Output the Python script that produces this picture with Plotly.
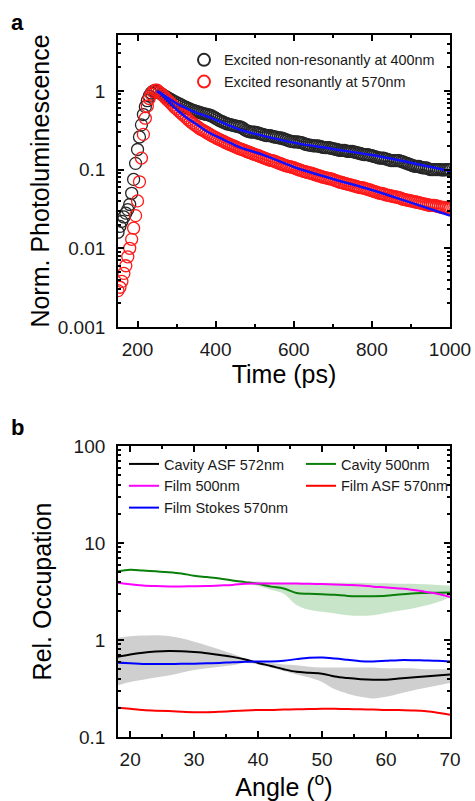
import plotly.graph_objects as go

# ---------------- Panel a data (time step 5 ps, 150..1000 ps) ----------------
t_start, t_stop, t_step = 150, 1000, 5
t_ps = list(range(t_start, t_stop + 1, t_step))

pl_nonres_400 = [
    0.016, 0.019, 0.022, 0.025, 0.028, 0.031, 0.036, 0.05, 0.075, 0.12,      # 150-195
    0.18, 0.26, 0.37, 0.50, 0.63, 0.75, 0.86, 0.94, 0.99, 1.0,               # 200-245
    0.98, 0.95, 0.92, 0.89, 0.86, 0.83, 0.80, 0.78, 0.75, 0.73,              # 250-295
    0.71, 0.69, 0.67, 0.65, 0.63, 0.615, 0.60, 0.585, 0.57, 0.56,            # 300-345
    0.55, 0.54, 0.53, 0.52, 0.51, 0.505, 0.50, 0.49, 0.48, 0.465,            # 350-395
    0.45, 0.435, 0.42, 0.41, 0.40, 0.39, 0.38, 0.375, 0.37, 0.365,           # 400-445
    0.36, 0.355, 0.35, 0.345, 0.335, 0.32, 0.31, 0.305, 0.30, 0.30,          # 450-495
    0.30, 0.295, 0.29, 0.285, 0.28, 0.275, 0.27, 0.27, 0.27, 0.265,          # 500-545
    0.26, 0.258, 0.255, 0.252, 0.25, 0.245, 0.24, 0.235, 0.23, 0.228,        # 550-595
    0.225, 0.225, 0.225, 0.222, 0.22, 0.215, 0.21, 0.207, 0.205, 0.203,      # 600-645
    0.20, 0.20, 0.20, 0.198, 0.195, 0.192, 0.19, 0.19, 0.19, 0.187,          # 650-695
    0.185, 0.182, 0.18, 0.177, 0.175, 0.175, 0.175, 0.172, 0.17, 0.17,       # 700-745
    0.17, 0.167, 0.165, 0.162, 0.16, 0.157, 0.155, 0.155, 0.155, 0.152,      # 750-795
    0.15, 0.147, 0.145, 0.142, 0.14, 0.14, 0.14, 0.137, 0.135, 0.132,        # 800-845
    0.13, 0.13, 0.13, 0.13, 0.13, 0.127, 0.125, 0.122, 0.12, 0.117,          # 850-895
    0.115, 0.112, 0.11, 0.11, 0.11, 0.107, 0.105, 0.105, 0.105, 0.102,       # 900-945
    0.10, 0.10, 0.10, 0.10, 0.10, 0.10, 0.099, 0.099, 0.10, 0.10,            # 950-995
    0.10,                                                                     # 1000
]

pl_res_570 = [
    0.0029, 0.0032, 0.0038, 0.0048, 0.006, 0.0078, 0.010, 0.013, 0.018, 0.026,   # 150-195
    0.040, 0.07, 0.14, 0.28, 0.45, 0.64, 0.80, 0.91, 0.98, 1.02,                 # 200-245
    1.02, 0.97, 0.93, 0.88, 0.83, 0.78, 0.74, 0.70, 0.66, 0.62,                  # 250-295
    0.59, 0.56, 0.53, 0.505, 0.48, 0.455, 0.43, 0.41, 0.39, 0.375,               # 300-345
    0.36, 0.345, 0.33, 0.32, 0.31, 0.30, 0.29, 0.28, 0.27, 0.262,                # 350-395
    0.255, 0.247, 0.24, 0.234, 0.228, 0.221, 0.215, 0.21, 0.205, 0.20,           # 400-445
    0.195, 0.19, 0.185, 0.182, 0.178, 0.174, 0.17, 0.166, 0.163, 0.159,          # 450-495
    0.156, 0.153, 0.15, 0.146, 0.143, 0.14, 0.137, 0.134, 0.131, 0.13,           # 500-545
    0.128, 0.125, 0.122, 0.119, 0.117, 0.114, 0.112, 0.11, 0.109, 0.107,         # 550-595
    0.106, 0.103, 0.101, 0.099, 0.097, 0.095, 0.094, 0.092, 0.091, 0.09,         # 600-645
    0.088, 0.086, 0.085, 0.083, 0.082, 0.08, 0.079, 0.078, 0.077, 0.076,         # 650-695
    0.075, 0.073, 0.072, 0.07, 0.069, 0.068, 0.067, 0.066, 0.065, 0.064,         # 700-745
    0.063, 0.062, 0.061, 0.06, 0.059, 0.059, 0.058, 0.057, 0.056, 0.055,         # 750-795
    0.054, 0.053, 0.052, 0.051, 0.050, 0.050, 0.049, 0.048, 0.047, 0.047,        # 800-845
    0.046, 0.0455, 0.045, 0.0445, 0.044, 0.043, 0.042, 0.0415, 0.041, 0.0405,    # 850-895
    0.040, 0.0395, 0.039, 0.0385, 0.038, 0.0375, 0.037, 0.0365, 0.036, 0.0355,   # 900-945
    0.035, 0.035, 0.035, 0.0345, 0.034, 0.0335, 0.033, 0.033, 0.033, 0.0325,     # 950-995
    0.032,                                                                        # 1000
]

fit_t = [250, 260, 280, 300, 325, 350, 380, 420, 464, 520, 600, 700, 800, 900, 1000]
fit_nonres = [1.0, 0.93, 0.80, 0.69, 0.60, 0.53, 0.47, 0.39, 0.32, 0.27, 0.22, 0.183, 0.153, 0.122, 0.096]
fit_res = [0.99, 0.91, 0.73, 0.58, 0.46, 0.38, 0.30, 0.24, 0.19, 0.155, 0.108, 0.076, 0.055, 0.038, 0.026]

# ---------------- Panel b data ----------------
angle = [18, 20, 22, 24, 26, 28, 30, 32, 34, 36, 38, 40, 42, 44, 46, 48, 50, 52, 54, 56, 58, 60, 62, 64, 66, 68, 70]

cavity_asf_572 = [0.67, 0.71, 0.74, 0.76, 0.77, 0.765, 0.75, 0.73, 0.70, 0.67, 0.63, 0.58, 0.54, 0.50, 0.47, 0.46, 0.45, 0.42, 0.405, 0.395, 0.39, 0.39, 0.40, 0.41, 0.42, 0.43, 0.44]
cavity_asf_hi = [1.05, 1.09, 1.11, 1.12, 1.10, 1.04, 0.96, 0.88, 0.80, 0.72, 0.64, 0.60, 0.58, 0.56, 0.55, 0.53, 0.52, 0.52, 0.52, 0.52, 0.52, 0.51, 0.51, 0.51, 0.50, 0.50, 0.50]
cavity_asf_lo = [0.34, 0.37, 0.39, 0.41, 0.43, 0.46, 0.49, 0.51, 0.53, 0.55, 0.58, 0.56, 0.52, 0.48, 0.44, 0.41, 0.37, 0.31, 0.28, 0.26, 0.25, 0.26, 0.28, 0.30, 0.32, 0.34, 0.36]

cavity_500 = [5.1, 5.3, 5.2, 5.1, 5.0, 4.85, 4.6, 4.45, 4.3, 4.1, 3.95, 3.8, 3.55, 3.4, 3.05, 3.0, 2.96, 2.92, 2.85, 2.83, 2.83, 2.86, 2.95, 3.02, 3.05, 3.07, 3.08]
band_angle = [38, 40, 42, 44, 46, 48, 50, 52, 54, 56, 58, 60, 62, 64, 66, 68, 70]
cavity_500_hi = [3.98, 4.0, 3.95, 3.9, 3.9, 3.9, 3.9, 3.9, 3.9, 3.9, 3.85, 3.85, 3.8, 3.8, 3.75, 3.7, 3.65]
cavity_500_lo = [3.9, 3.6, 3.3, 3.0, 2.3, 2.05, 1.95, 1.88, 1.8, 1.78, 1.8, 1.9, 2.0, 2.1, 2.25, 2.45, 2.75]

film_500 = [3.9, 3.75, 3.65, 3.6, 3.57, 3.57, 3.58, 3.6, 3.65, 3.7, 3.8, 3.83, 3.83, 3.83, 3.82, 3.8, 3.77, 3.74, 3.7, 3.65, 3.55, 3.48, 3.4, 3.3, 3.15, 3.0, 2.78]
film_asf_570 = [0.20, 0.195, 0.19, 0.187, 0.185, 0.182, 0.18, 0.18, 0.182, 0.185, 0.188, 0.19, 0.19, 0.192, 0.193, 0.194, 0.195, 0.195, 0.194, 0.193, 0.192, 0.19, 0.19, 0.188, 0.185, 0.178, 0.17]
film_stokes_570 = [0.585, 0.575, 0.565, 0.565, 0.565, 0.568, 0.57, 0.575, 0.58, 0.59, 0.595, 0.60, 0.60, 0.61, 0.635, 0.655, 0.66, 0.645, 0.625, 0.605, 0.60, 0.61, 0.62, 0.62, 0.615, 0.61, 0.60]

FONT = "Liberation Sans, Arial, sans-serif"
TXT = "#1a1a1a"

fig = go.Figure()

# Panel a
fig.add_trace(go.Scatter(x=t_ps, y=pl_nonres_400, mode="markers", name="Excited non-resonantly at 400nm",
                         marker=dict(symbol="circle-open", size=12, color="#262626", line=dict(width=1.3)),
                         xaxis="x", yaxis="y", legend="legend"))
fig.add_trace(go.Scatter(x=t_ps, y=pl_res_570, mode="markers", name="Excited resonantly at 570nm",
                         marker=dict(symbol="circle-open", size=12, color="#ff1a1a", line=dict(width=1.3)),
                         xaxis="x", yaxis="y", legend="legend"))
fig.add_trace(go.Scatter(x=fit_t, y=fit_nonres, mode="lines", line=dict(color="#1010ff", width=2.5, shape="spline"),
                         showlegend=False, xaxis="x", yaxis="y"))
fig.add_trace(go.Scatter(x=fit_t, y=fit_res, mode="lines", line=dict(color="#1010ff", width=2.5, shape="spline"),
                         showlegend=False, xaxis="x", yaxis="y"))

# Panel b bands
fig.add_trace(go.Scatter(x=angle, y=cavity_asf_lo, mode="lines", line=dict(width=0, color="rgba(0,0,0,0)", shape="spline"),
                         showlegend=False, xaxis="x2", yaxis="y2", hoverinfo="skip"))
fig.add_trace(go.Scatter(x=angle, y=cavity_asf_hi, mode="lines", line=dict(width=0, color="rgba(0,0,0,0)", shape="spline"),
                         fill="tonexty", fillcolor="rgba(160,160,160,0.5)",
                         showlegend=False, xaxis="x2", yaxis="y2", hoverinfo="skip"))
fig.add_trace(go.Scatter(x=band_angle, y=cavity_500_lo, mode="lines", line=dict(width=0, color="rgba(0,0,0,0)", shape="spline"),
                         showlegend=False, xaxis="x2", yaxis="y2", hoverinfo="skip"))
fig.add_trace(go.Scatter(x=band_angle, y=cavity_500_hi, mode="lines", line=dict(width=0, color="rgba(0,0,0,0)", shape="spline"),
                         fill="tonexty", fillcolor="rgba(60,160,60,0.28)",
                         showlegend=False, xaxis="x2", yaxis="y2", hoverinfo="skip"))

# Panel b lines
fig.add_trace(go.Scatter(x=angle, y=cavity_asf_572, mode="lines", name="Cavity ASF 572nm",
                         line=dict(color="#000000", width=2, shape="spline"), xaxis="x2", yaxis="y2", legend="legend2"))
fig.add_trace(go.Scatter(x=angle, y=cavity_500, mode="lines", name="Cavity 500nm",
                         line=dict(color="#0a800a", width=2, shape="spline"), xaxis="x2", yaxis="y2", legend="legend3"))
fig.add_trace(go.Scatter(x=angle, y=film_500, mode="lines", name="Film 500nm",
                         line=dict(color="#ff00ff", width=2, shape="spline"), xaxis="x2", yaxis="y2", legend="legend2"))
fig.add_trace(go.Scatter(x=angle, y=film_asf_570, mode="lines", name="Film ASF 570nm",
                         line=dict(color="#ff0000", width=2, shape="spline"), xaxis="x2", yaxis="y2", legend="legend3"))
fig.add_trace(go.Scatter(x=angle, y=film_stokes_570, mode="lines", name="Film Stokes 570nm",
                         line=dict(color="#0000ff", width=2, shape="spline"), xaxis="x2", yaxis="y2", legend="legend2"))

# body margin is removed in the page (post_script), so figure pixels == page pixels
W, H = 475, 801
def px_x(p):
    return p / W
def px_y(p):
    return 1 - p / H

def minor_log(lo, hi):
    return [m * 10 ** e for e in range(lo, hi) for m in range(2, 10)]

axis_common = dict(showline=True, linecolor="black", linewidth=1.8, mirror="ticks", ticks="inside",
                   ticklen=6, tickwidth=1.5, tickcolor="black", showgrid=False, zeroline=False,
                   tickfont=dict(family=FONT, size=19, color=TXT), automargin=False)
TITLE_FONT = dict(family=FONT, size=25, color="black")

fig.update_layout(
    width=W, height=H, margin=dict(l=0, r=0, t=0, b=0),
    paper_bgcolor="white", plot_bgcolor="white",
    font=dict(family=FONT, color=TXT),
    xaxis=dict(domain=[px_x(118), px_x(450)], anchor="y", range=[150, 1000],
               tickvals=[200, 400, 600, 800, 1000], ticklabelstandoff=4,
               minor=dict(tickvals=[300, 500, 700, 900], ticks="inside", ticklen=3, tickcolor="black"),
               title=dict(text="Time (ps)", font=TITLE_FONT, standoff=2),
               **axis_common),
    yaxis=dict(domain=[px_y(327), px_y(35)], anchor="x", type="log", range=[-3, 0.71],
               tickvals=[0.001, 0.01, 0.1, 1], ticktext=["0.001", "0.01", "0.1", "1"], ticklabelstandoff=7,
               minor=dict(tickvals=minor_log(-3, 1), ticks="inside", ticklen=3, tickcolor="black"),
               title=dict(text="Norm. Photoluminescence", font=TITLE_FONT, standoff=1),
               **axis_common),
    xaxis2=dict(domain=[px_x(118), px_x(450)], anchor="y2", range=[18.1, 70],
                tickvals=[20, 30, 40, 50, 60, 70], ticklabelstandoff=4,
                minor=dict(tickvals=[25, 35, 45, 55, 65], ticks="inside", ticklen=3, tickcolor="black"),
                title=dict(text="Angle (<sup>o</sup>)", font=TITLE_FONT, standoff=8),
                **axis_common),
    yaxis2=dict(domain=[px_y(737), px_y(446)], anchor="x2", type="log", range=[-1, 2],
                tickvals=[0.1, 1, 10, 100], ticktext=["0.1", "1", "10", "100"], ticklabelstandoff=7,
                minor=dict(tickvals=minor_log(-1, 2), ticks="inside", ticklen=3, tickcolor="black"),
                title=dict(text="Rel. Occupation", font=TITLE_FONT, standoff=15),
                **axis_common),
    legend=dict(x=px_x(184), y=px_y(44), xanchor="left", yanchor="top", bgcolor="rgba(0,0,0,0)",
                font=dict(family=FONT, size=14.4, color=TXT), tracegroupgap=0, traceorder="normal",
                itemsizing="constant"),
    legend2=dict(x=px_x(124), y=px_y(448), xanchor="left", yanchor="top", bgcolor="rgba(0,0,0,0)",
                 font=dict(family=FONT, size=14.5, color=TXT), tracegroupgap=0, traceorder="normal"),
    legend3=dict(x=px_x(301), y=px_y(448), xanchor="left", yanchor="top", bgcolor="rgba(0,0,0,0)",
                 font=dict(family=FONT, size=14.5, color=TXT), tracegroupgap=0, traceorder="normal"),
    annotations=[
        dict(text="<b>a</b>", x=px_x(9), y=px_y(23), xref="paper", yref="paper", xanchor="left", yanchor="middle",
             showarrow=False, font=dict(family=FONT, size=22, color="black")),
        dict(text="<b>b</b>", x=px_x(9), y=px_y(427), xref="paper", yref="paper", xanchor="left", yanchor="middle",
             showarrow=False, font=dict(family=FONT, size=22, color="black")),
    ],
)

fig.write_html("out.html", config={"displayModeBar": False},
               post_script="document.body.style.margin='0';document.documentElement.style.overflow='hidden';")
